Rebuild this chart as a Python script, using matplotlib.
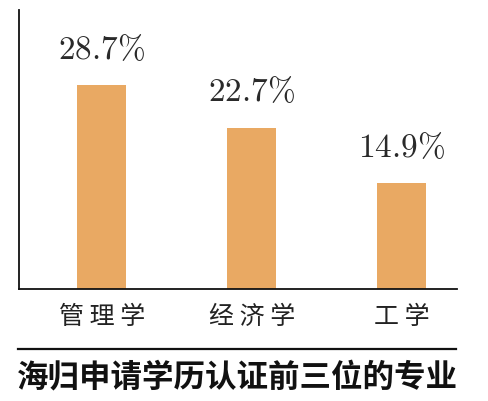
import matplotlib
matplotlib.use("Agg")
import matplotlib.pyplot as plt
from matplotlib.lines import Line2D

categories = ["管理学", "经济学", "工学"]
values = [28.7, 22.7, 14.9]
title = "海归申请学历认证前三位的专业"

plt.rcParams['mathtext.fontset'] = 'cm'

fig = plt.figure(figsize=(4.89, 4.01), dpi=100)
ax = fig.add_axes([19/489, 1-289/401, 438/489, 279/401])

x = list(range(len(categories)))
bars = ax.bar(x, values, width=0.327, color='#E9A963', edgecolor='none')

ax.set_xlim(-0.553, 2.367)
ax.set_ylim(0, 39.3)

for xi, v in zip(x, values):
    ax.annotate(r'$\mathrm{%.1f\%%}$' % v, (xi, v), xytext=(0, 14), textcoords='offset points',
                ha='center', va='bottom', fontsize=24, color='#2a2a2a')

ax.set_xticks(x)
ax.set_xticklabels([' '.join(c) for c in categories], family=['Noto Sans CJK SC', 'DejaVu Sans'],
                   fontsize=18, fontweight='light', color='#222222')
ax.tick_params(axis='x', length=0, pad=11)
ax.set_yticks([])
for s in ['top', 'right']:
    ax.spines[s].set_visible(False)
ax.spines['left'].set_linewidth(1.3)
ax.spines['bottom'].set_linewidth(1.3)
ax.spines['left'].set_color('#111111')
ax.spines['bottom'].set_color('#111111')

fig.add_artist(Line2D([18/489, 456/489], [1-349/401, 1-349/401], color='#111111', lw=1.6))
fig.text(17/489, 1-377/401, title, family=['Noto Sans CJK SC', 'DejaVu Sans'], fontsize=22.7,
         fontweight='bold', color='#111111', ha='left', va='center')

fig.savefig('out.png', dpi=100, facecolor='white')
